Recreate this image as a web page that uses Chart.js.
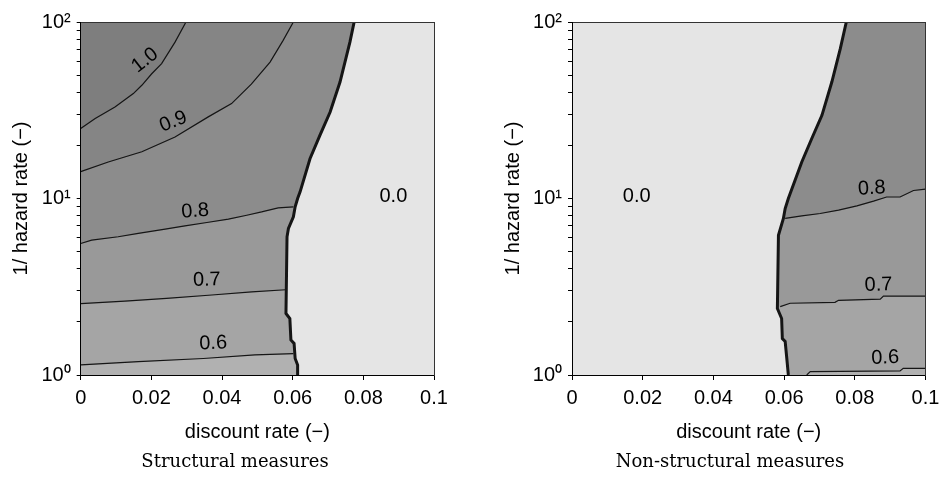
<!DOCTYPE html>
<html lang="en">
<head>
<meta charset="UTF-8">
<title>Contours: discount rate vs 1/hazard rate</title>
<script src="https://cdn.jsdelivr.net/npm/chart.js"></script>
<style>
  html, body { margin: 0; padding: 0; background: #fff; width: 940px; height: 486px; overflow: hidden; }
  canvas { position: absolute; top: 0; }
  #structural { left: 0; }
  #nonstructural { left: 495px; }
</style>
</head>
<body>
<canvas id="structural" width="470" height="486"></canvas>
<canvas id="nonstructural" width="470" height="486"></canvas>
<script>
// axis ticks
const rateTicks = [0, 0.02, 0.04, 0.06, 0.08, 0.1];
const hazardTicks = [1, 2, 3, 4, 5, 6, 7, 8, 9, 10, 20, 30, 40, 50, 60, 70, 80, 90, 100];

// structural measures: contour lines, [discount rate, 1/hazard rate]
const sLevel10 = [[0, 24.9], [0.0041, 28.4], [0.0097, 33.0], [0.0149, 39.3], [0.0173, 43.8], [0.0201, 50.9], [0.0229, 58.1], [0.0267, 76.9], [0.0298, 100]];
const sLevel09 = [[0, 14.2], [0.0078, 16.1], [0.0173, 18.4], [0.0267, 22.3], [0.0361, 29.0], [0.0427, 34.5], [0.0483, 44.5], [0.0536, 59.3], [0.0573, 78.7], [0.0602, 100]];
const sLevel08 = [[0, 5.56], [0.0031, 5.81], [0.0106, 6.07], [0.0163, 6.34], [0.0239, 6.70], [0.0295, 7.00], [0.0357, 7.31], [0.0418, 7.64], [0.047, 8.04], [0.0512, 8.39], [0.0559, 8.85], [0.0602, 8.97]];
const sLevel07 = [[0, 2.54], [0.0125, 2.62], [0.0243, 2.72], [0.0371, 2.84], [0.0484, 2.96], [0.058, 3.04]];
const sLevel06 = [[0, 1.14], [0.0163, 1.19], [0.0347, 1.24], [0.0493, 1.30], [0.0602, 1.32]];
const sZero = [[0.0614, 1], [0.0614, 1.14], [0.0607, 1.24], [0.0604, 1.51], [0.0595, 1.58], [0.0592, 2.09], [0.0581, 2.23], [0.0584, 6.07], [0.0588, 6.76], [0.0602, 7.87], [0.0607, 8.97], [0.0614, 10.0], [0.0621, 10.9], [0.0649, 16.8], [0.0677, 22.8], [0.0706, 30.9], [0.0734, 45.7], [0.0762, 76.9], [0.0774, 100]];
const sLabels = ['1.0', '0.9', '0.8', '0.7', '0.6', '0.0'];
const sLabelAt = [[0.0182, 60.7], [0.0262, 27.2], [0.0324, 8.47], [0.0357, 3.45], [0.0375, 1.51], [0.0885, 10.2]];

// non-structural measures
const nLevel08 = [[0.0603, 7.71], [0.065, 7.98], [0.0702, 8.22], [0.0754, 8.59], [0.0806, 9.08], [0.0853, 9.66], [0.089, 10.2], [0.0928, 10.2], [0.0966, 11.1], [0.1, 11.3]];
const nLevel07 = [[0.0589, 2.44], [0.0617, 2.55], [0.0744, 2.58], [0.0754, 2.65], [0.0872, 2.69], [0.0881, 2.80], [0.1, 2.80]];
const nLevel06 = [[0.0664, 1], [0.0674, 1.045], [0.0928, 1.054], [0.0937, 1.09], [0.1, 1.09]];
const nZero = [[0.0612, 1], [0.0608, 1.22], [0.0603, 1.55], [0.0595, 1.61], [0.0593, 2.09], [0.0581, 2.38], [0.0584, 6.19], [0.0598, 7.71], [0.0603, 8.77], [0.0612, 10], [0.065, 16.1], [0.0678, 21.8], [0.0707, 29.6], [0.0735, 45.7], [0.0759, 70.6], [0.0776, 100]];
const nLabels = ['0.0', '0.8', '0.7', '0.6'];
const nLabelAt = [[0.0183, 10.2], [0.0848, 11.4], [0.0867, 3.23], [0.0886, 1.25]];

const RMIN = 0, RMAX = 0.1, HMIN = 1, HMAX = 100;
const SANS = '"Liberation Sans", Arial, sans-serif';
const SUP = ['\u2070', '\u00b9', '\u00b2'];

function pts(arr) { return arr.map(p => ({ x: p[0], y: p[1] })); }

// region on the upper-left side of a contour line
function above(line) {
  const last = line[line.length - 1];
  return [...line, [RMAX, last[1]], [RMAX, HMAX], [RMIN, HMAX], [RMIN, line[0][1]]];
}

function area(arr, grey, order) {
  const c = `rgb(${grey},${grey},${grey})`;
  return { data: pts(arr), showLine: true, fill: 'shape', backgroundColor: c, borderColor: c,
           borderWidth: 1, pointRadius: 0, order: order };
}

function contour(arr, width, order) {
  return { data: pts(arr), showLine: true, fill: false, borderColor: '#151515', borderWidth: width,
           pointRadius: 0, order: order };
}

const contourLabels = {
  id: 'contourLabels',
  afterDatasetsDraw(chart, args, opts) {
    const { ctx, scales: { x, y } } = chart;
    ctx.save();
    ctx.font = '20px ' + SANS;
    ctx.fillStyle = '#000';
    ctx.textAlign = 'center';
    ctx.textBaseline = 'middle';
    opts.text.forEach((t, i) => {
      ctx.save();
      ctx.translate(x.getPixelForValue(opts.at[i][0]), y.getPixelForValue(opts.at[i][1]));
      ctx.rotate((opts.angle[i] || 0) * Math.PI / 180);
      ctx.fillText(t, 0, 0);
      ctx.restore();
    });
    ctx.restore();
  }
};

function makeChart(id, datasets, caption, labels, yWidth, rightWidth, yTitlePad) {
  return new Chart(document.getElementById(id), {
    type: 'scatter',
    data: { datasets: datasets },
    plugins: [contourLabels],
    options: {
      responsive: false,
      animation: false,
      layout: { padding: 0 },
      plugins: {
        legend: { display: false },
        tooltip: { enabled: false },
        title: {
          display: true, position: 'bottom', text: caption, color: '#000',
          font: { family: '"DejaVu Serif", serif', size: 18, weight: 'normal' },
          padding: { top: 0, bottom: 13 }
        },
        contourLabels: labels
      },
      scales: {
        x: {
          type: 'linear', position: 'bottom', min: RMIN, max: RMAX,
          afterBuildTicks: s => { s.ticks = rateTicks.map(v => ({ value: v })); },
          afterFit: s => { s.height = 76.4; },
          ticks: { callback: v => String(v), color: '#000', font: { family: SANS, size: 20 },
                   padding: 6, maxRotation: 0, autoSkip: false },
          grid: { drawOnChartArea: false, tickLength: 5, color: '#000' },
          border: { color: '#000', z: 1 },
          title: { display: true, text: 'discount rate (\u2212)', color: '#000',
                   font: { family: SANS, size: 20 }, padding: { top: 0, bottom: 7.4 } }
        },
        xTop: {
          type: 'linear', position: 'top', min: RMIN, max: RMAX,
          afterFit: s => { s.height = 22; },
          ticks: { display: false },
          grid: { display: false, drawTicks: false },
          border: { color: '#333', z: 1 }
        },
        y: {
          type: 'logarithmic', position: 'left', min: HMIN, max: HMAX,
          afterBuildTicks: s => { s.ticks = hazardTicks.map(v => ({ value: v })); },
          afterFit: s => { s.width = yWidth; },
          ticks: {
            callback: v => { const e = Math.log10(v); return Number.isInteger(e) ? '10' + SUP[e] : ''; },
            color: '#000', font: { family: SANS, size: 20 }, padding: 6, autoSkip: false
          },
          grid: { drawOnChartArea: false, tickLength: 4, color: '#000' },
          border: { color: '#000', z: 1 },
          title: { display: true, text: '1/ hazard rate (\u2212)', color: '#000',
                   font: { family: SANS, size: 20 }, padding: { top: yTitlePad, bottom: 0 } }
        },
        yRight: {
          type: 'logarithmic', position: 'right', min: HMIN, max: HMAX,
          afterFit: s => { s.width = rightWidth; },
          ticks: { display: false },
          grid: { display: false, drawTicks: false },
          border: { color: '#333', z: 1 }
        }
      }
    }
  });
}

const frame = [[RMIN, HMIN], [RMAX, HMIN], [RMAX, HMAX], [RMIN, HMAX]];

makeChart('structural', [
  contour(sZero, 3, 1),
  contour(sLevel10, 1.2, 2),
  contour(sLevel09, 1.2, 2),
  contour(sLevel08, 1.2, 2),
  contour(sLevel07, 1.2, 2),
  contour(sLevel06, 1.2, 2),
  area([...sZero, [RMAX, HMAX], [RMAX, HMIN]], 229, 14),
  area([...sLevel10, [RMIN, HMAX]], 126, 15),
  area([...sLevel09, [RMIN, HMAX]], 133, 16),
  area(above(sLevel08), 140, 17),
  area(above(sLevel07), 153, 18),
  area(above(sLevel06), 165, 19),
  area(frame, 177, 20)
], 'Structural measures',
  { text: sLabels, at: sLabelAt, angle: [-38, -22, -4, -2, -2, 0] }, 80.7, 36, 9);

makeChart('nonstructural', [
  contour(nZero, 3, 1),
  contour(nLevel08, 1.2, 2),
  contour(nLevel07, 1.2, 2),
  contour(nLevel06, 1.2, 2),
  area([...nZero, [RMIN, HMAX], [RMIN, HMIN]], 229, 14),
  area(above(nLevel08), 140, 17),
  area(above(nLevel07), 153, 18),
  area(above(nLevel06), 165, 19),
  area(frame, 177, 20)
], 'Non-structural measures',
  { text: nLabels, at: nLabelAt, angle: [0, -3, -2, -2] }, 77, 39.5, 6);
</script>
</body>
</html>
